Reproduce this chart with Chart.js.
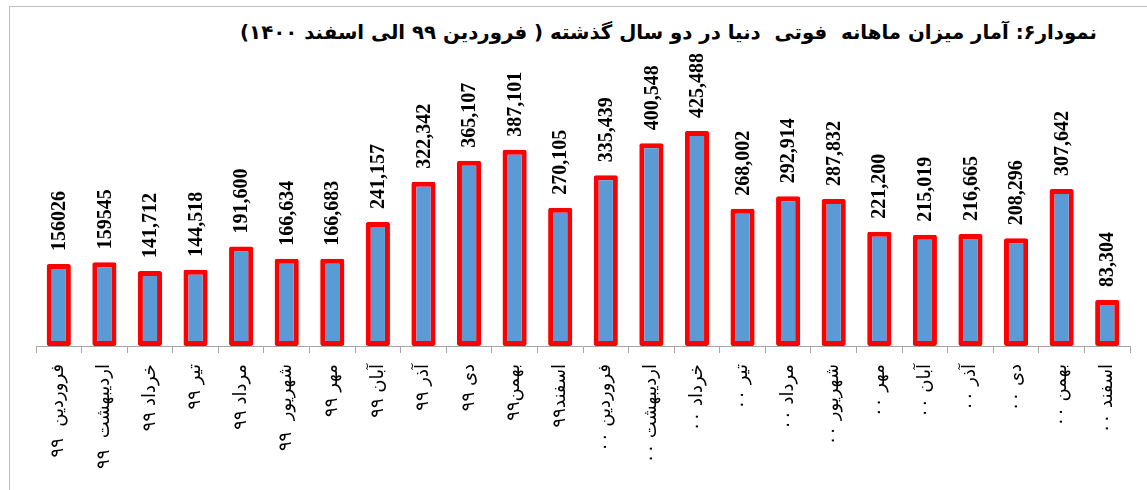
<!DOCTYPE html>
<html lang="fa">
<head>
<meta charset="utf-8">
<script src="https://cdn.jsdelivr.net/npm/chart.js@4.4.1/dist/chart.umd.min.js"></script>
<style>
    html, body { margin: 0; padding: 0; background: #fff; overflow: hidden; }
    #wrap { position: relative; width: 1147px; height: 490px; }
    #frame { position: absolute; left: 9px; top: 6px; width: 1300px; height: 700px; border: 1px solid #c0c0c0; }
    #title {
        position: absolute; right: 50px; top: 21px;
        direction: rtl; white-space: pre;
        font: bold 19.75px "DejaVu Sans", sans-serif; color: #000;
    }
    #chart { position: absolute; left: 0; top: 0; }
</style>
</head>
<body>
<div id="wrap">
    <div id="frame"></div>
    <div id="title">نمودار۶: آمار میزان ماهانه  فوتی  دنیا در دو سال گذشته ( فروردین ۹۹ الی اسفند ۱۴۰۰)</div>
    <canvas id="chart" width="1147" height="490"></canvas>
</div>
<script>
const months = [
    'فروردین  ۹۹', 'اردیبهشت  ۹۹', 'خرداد ۹۹', 'تیر ۹۹', 'مرداد ۹۹', 'شهریور  ۹۹',
    'مهر ۹۹', 'آبان ۹۹', 'آذر ۹۹', 'دی ۹۹', 'بهمن۹۹', 'اسفند۹۹',
    'فروردین ۰۰', 'اردیبهشت ۰۰', 'خرداد ۰۰', 'تیر ۰۰', 'مرداد ۰۰', 'شهریور ۰۰',
    'مهر ۰۰', 'آبان ۰۰', 'آذر ۰۰', 'دی ۰۰', 'بهمن ۰۰', 'اسفند ۰۰'
]

const deaths = [
    156026, 159545, 141712, 144518, 191600, 166634,
    166683, 241157, 322342, 365107, 387101, 270105,
    335439, 400548, 425488, 268002, 292914, 287832,
    221200, 215019, 216665, 208296, 307642, 83304
]

// printed as in the source (first two have no thousands separator)
const valueLabels = [
    '156026', '159545', '141,712', '144,518', '191,600', '166,634',
    '166,683', '241,157', '322,342', '365,107', '387,101', '270,105',
    '335,439', '400,548', '425,488', '268,002', '292,914', '287,832',
    '221,200', '215,019', '216,665', '208,296', '307,642', '83,304'
]

const barValueLabels = {
    id: 'barValueLabels',
    afterDatasetsDraw(chart) {
        const ctx = chart.ctx
        const meta = chart.getDatasetMeta(0)
        ctx.save()
        ctx.font = 'bold 20px "Liberation Serif"'
        ctx.fillStyle = '#000'
        ctx.textAlign = 'left'
        ctx.textBaseline = 'middle'
        meta.data.forEach((bar, i) => {
            ctx.save()
            ctx.translate(bar.x + 1, bar.y - 13)
            ctx.rotate(-Math.PI / 2)
            ctx.fillText(valueLabels[i], 0, 0)
            ctx.restore()
        })
        ctx.restore()
    }
}

new Chart(document.getElementById('chart'), {
    type: 'bar',
    data: {
        labels: months,
        datasets: [{
            data: deaths,
            base: -10000,
            backgroundColor: '#5B9BD5',
            borderColor: '#FF0000',
            borderWidth: 5,
            borderSkipped: false,
            borderRadius: 2,
            barPercentage: 0.53,
            categoryPercentage: 1
        }]
    },
    options: {
        responsive: false,
        animation: false,
        layout: { padding: { left: 36, right: 17, top: 60, bottom: 0 } },
        plugins: { legend: { display: false }, tooltip: { enabled: false } },
        scales: {
            x: {
                grid: { offset: true, drawOnChartArea: false, drawTicks: true, tickLength: 7, color: '#a6a6a6' },
                border: { display: true, color: '#a6a6a6', width: 1 },
                ticks: {
                    autoSkip: false, minRotation: 90, maxRotation: 90, padding: 11,
                    color: '#000', font: { family: '"DejaVu Sans"', size: 18 }
                },
                afterFit: scale => { scale.height = 144 }
            },
            y: {
                display: false,
                min: -10000,
                max: 569000
            }
        }
    },
    plugins: [barValueLabels]
})
</script>
</body>
</html>
